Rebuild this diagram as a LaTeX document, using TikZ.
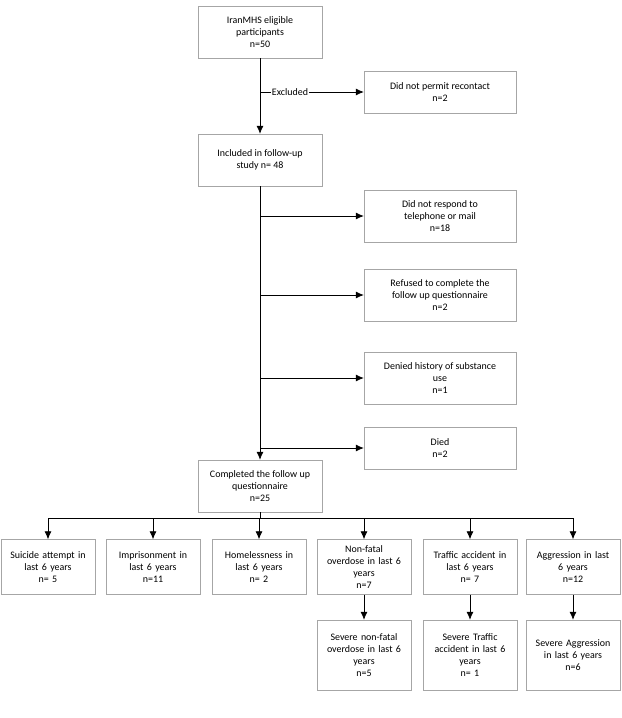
\documentclass[tikz,border=0pt]{standalone}
\usepackage{fontspec}
\setmainfont{Carlito}
\usetikzlibrary{positioning,arrows.meta}
\tikzset{
    box/.style={draw, gray!70, text=black, align=center, font=\fontsize{10}{12}\selectfont, inner sep=2pt},
    mainbox/.style={box, minimum width=124bp, minimum height=52bp},
    sidebox/.style={box, minimum width=152bp, minimum height=42bp},
    outbox/.style={box, text width=90bp, minimum height=55bp},
    arrow/.style={-{Latex[length=8bp,width=7bp]}, thick, black},
    line/.style={thick, black}
}
\begin{document}
\begin{tikzpicture}[x=1bp, y=-1bp]
\useasboundingbox (0,0) rectangle (622,718);
% main column
\node[mainbox] (elig) at (260,32) {IranMHS eligible\\participants\\n=50};
\node[mainbox] (incl) at (260,160) {Included in follow-up\\study n= 48};
\node[mainbox] (comp) at (260,486) {Completed the follow up\\questionnaire\\n=25};

% exclusions
\node[sidebox] (recon) at (440,92) {Did not permit recontact\\n=2};
\node[sidebox, minimum height=52bp] (noresp) at (440,216) {Did not respond to\\telephone or mail\\n=18};
\node[sidebox, minimum height=52bp] (refus) at (440,295) {Refused to complete the\\follow up questionnaire\\n=2};
\node[sidebox, minimum height=52bp] (deny) at (440,378) {Denied history of substance\\use\\n=1};
\node[sidebox] (died) at (440,448) {Died\\n=2};

\draw[arrow] (elig) -- (incl);
\draw[line] (260,92) -- node[fill=white, font=\fontsize{10}{12}\selectfont, inner sep=1pt] {Excluded} (320,92);
\draw[arrow] (320,92) -- (recon);
\draw[arrow] (incl) -- (comp);
\foreach \n in {noresp, refus, deny, died}
    \draw[arrow] (260,0 |- \n.west) -- (\n.west);

% outcomes
\node[outbox] (suic) at (48,567) {Suicide attempt in\\last 6 years\\n= 5};
\node[outbox] (impr) at (153,567) {Imprisonment in\\last 6 years\\n=11};
\node[outbox] (home) at (259,567) {Homelessness in\\last 6 years\\n= 2};
\node[outbox] (over) at (364,567) {Non-fatal\\overdose in last 6\\years\\n=7};
\node[outbox] (traf) at (470,567) {Traffic accident in\\last 6 years\\n= 7};
\node[outbox] (aggr) at (573,567) {Aggression in last\\6 years\\n=12};
\node[outbox, minimum height=70bp] (sover) at (364,655) {Severe non-fatal\\overdose in last 6\\years\\n=5};
\node[outbox, minimum height=70bp] (straf) at (470,655) {Severe Traffic\\accident in last 6\\years\\n= 1};
\node[outbox, minimum height=70bp] (saggr) at (573,655) {Severe Aggression\\in last 6 years\\n=6};

\draw[line] (comp) -- (260,518);
\draw[line] (suic.north |- 0,518) -- (aggr.north |- 0,518);
\foreach \n in {suic, impr, home, over, traf, aggr}
    \draw[arrow] (\n.north |- 0,518) -- (\n);
\draw[arrow] (over) -- (sover);
\draw[arrow] (traf) -- (straf);
\draw[arrow] (aggr) -- (saggr);
\end{tikzpicture}
\end{document}
